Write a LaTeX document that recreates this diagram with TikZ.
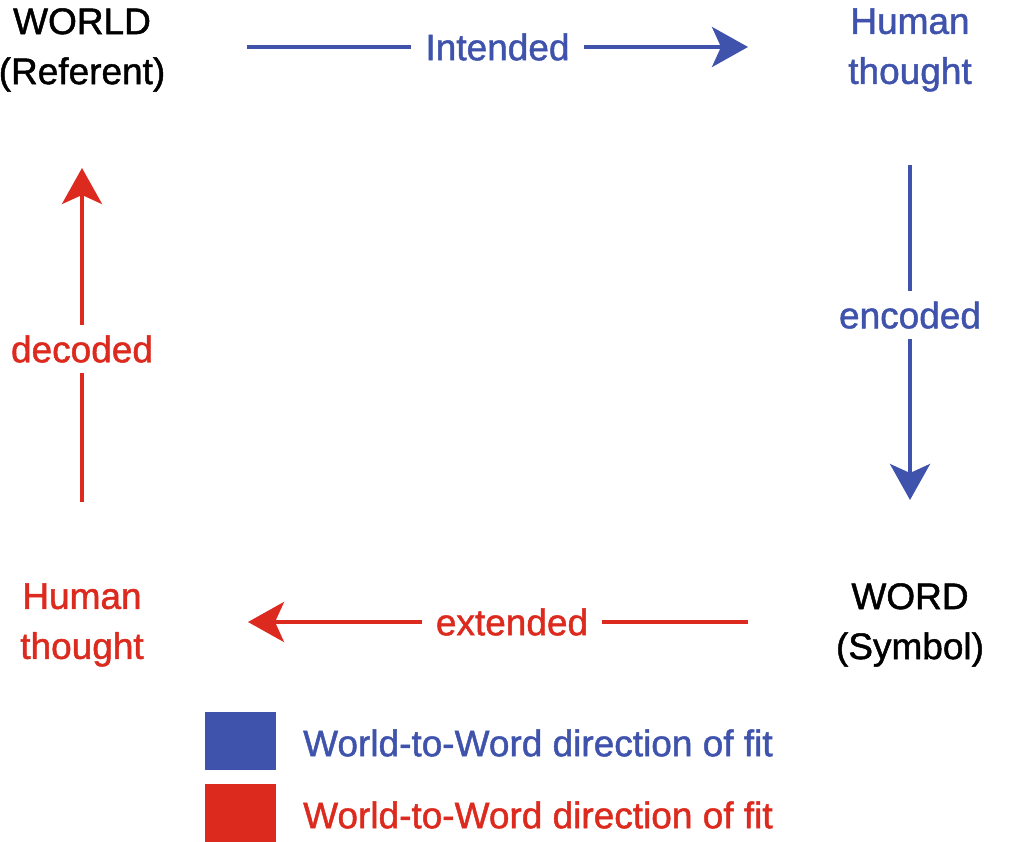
\documentclass[tikz,border=0pt]{standalone}
\usepackage{fontspec}
\setmainfont{Liberation Sans}[FakeBold=1.3]
\usetikzlibrary{arrows.meta}
\definecolor{cblue}{RGB}{63,83,172}
\definecolor{cred}{RGB}{220,42,30}
\tikzset{
  lbl/.style={align=center, font=\fontsize{37}{50}\selectfont, inner sep=0pt},
  arr/.style={line width=4pt, -{Stealth[length=36pt,width=40pt,inset=9pt]}},
  gap/.style={fill=white, font=\fontsize{37}{50}\selectfont, inner xsep=14pt, inner ysep=10pt},
  legbox/.style={inner sep=0pt, minimum width=71pt, minimum height=58pt, anchor=north west}
}
\begin{document}
\begin{tikzpicture}[x=1pt,y=-1pt]
\useasboundingbox (0,0) rectangle (1009,842);
\node[lbl] (world) at (82,50) {WORLD\\(Referent)};
\node[lbl, text=cblue] (ht1) at (910,50) {Human\\thought};
\node[lbl] (word) at (910,625) {WORD\\(Symbol)};
\node[lbl, text=cred] (ht2) at (82,625) {Human\\thought};
\coordinate (a1) at (247,47);
\coordinate (a2) at (748,47);
\coordinate (b1) at (910,165);
\coordinate (b2) at (910,500);
\coordinate (c1) at (748,622);
\coordinate (c2) at (248,622);
\coordinate (d1) at (82,502);
\coordinate (d2) at (82,168);
\draw[arr, cblue] (a1) -- node[gap, text=cblue, pos=0.5] {Intended} (a2);
\draw[arr, cblue] (b1) -- node[gap, text=cblue, pos=0.448] {encoded} (b2);
\draw[arr, cred] (c1) -- node[gap, text=cred, pos=0.472] {extended} (c2);
\draw[arr, cred] (d1) -- node[gap, text=cred, pos=0.458] {decoded} (d2);
\node[legbox, fill=cblue] (lb) at (205,712) {};
\node[legbox, fill=cred] (lr) at (205,784) {};
\node[lbl, text=cblue, anchor=west] (tb) at (303,743) {World-to-Word direction of fit};
\node[lbl, text=cred, anchor=west] (tr) at (303,815) {World-to-Word direction of fit};
\end{tikzpicture}
\end{document}
